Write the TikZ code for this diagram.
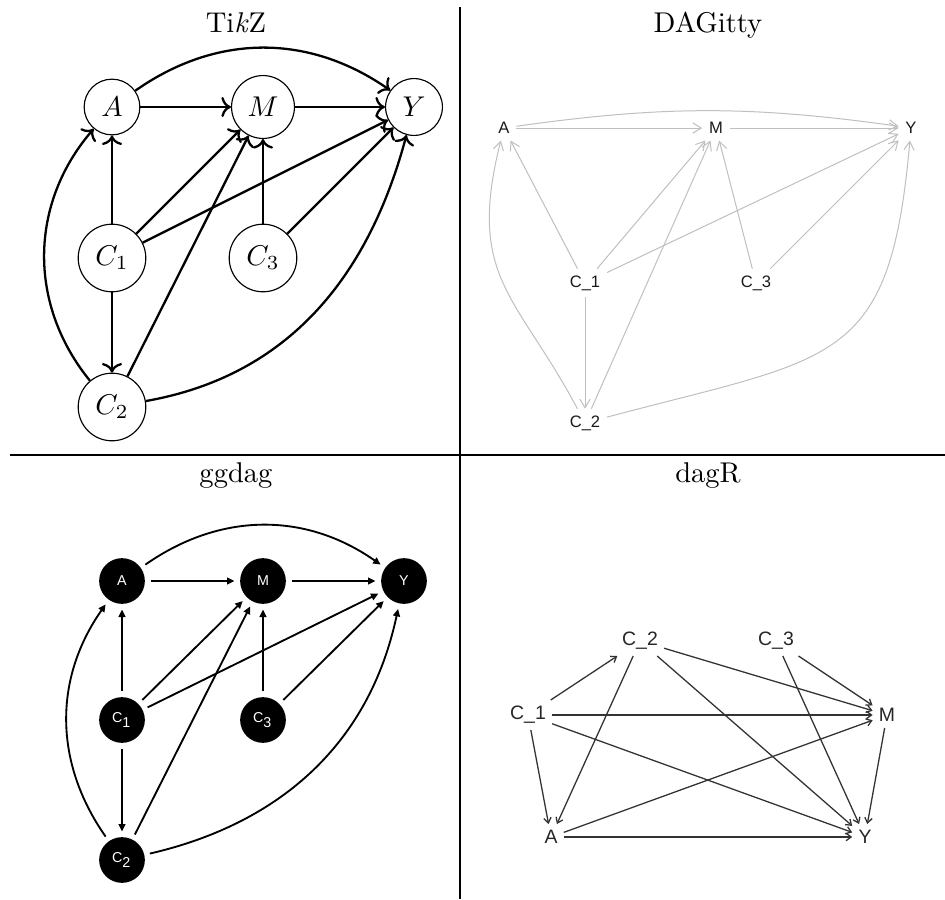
\documentclass[tikz,border=0pt]{standalone}
\usepackage{fontspec}
\newfontfamily\rsans{Liberation Sans}
\usetikzlibrary{arrows.meta}

\begin{document}
\begin{tikzpicture}[
    x=0.35pt,
    y=-0.35pt,
    paneltitle/.style ={
        anchor=base
    },
    tn/.style ={
        circle,
        draw,
        thin
    },
    tedge/.style ={
        ->,
        thick
    },
    dn/.style ={
        font=\rsans\fontsize{5.8}{6}\selectfont,
        text=black!90,
        inner sep=2.2pt
    },
    dedge/.style ={
        -{Straight Barb[length=3pt,width=3.6pt]},
        draw=black!25,
        line width=0.35pt
    },
    gn/.style ={
        circle,
        fill=black,
        text=white,
        minimum size=16pt,
        inner sep=0pt,
        outer sep=2pt,
        font=\rsans\fontsize{5}{6}\selectfont
    },
    gedge/.style ={
        -{Triangle[length=2.6pt,width=2.4pt]},
        line width=0.65pt
    },
    rn/.style ={
        font=\rsans\fontsize{6.8}{7}\selectfont,
        text=black!85,
        inner sep=2pt
    },
    redge/.style ={
        -{Straight Barb[length=1.8pt,width=2.6pt]},
        draw=black!80,
        line width=0.45pt
    }
    ]
    \useasboundingbox (0,0) rectangle (945,899);
    \draw (460,7) -- (460,899);
    \draw (10,455) -- (945,455);

    % TikZ
    \node[paneltitle] (ttitle) at (236,32) {Ti\emph{k}Z};
    \foreach \n/ \pos/ \lbl in {{A/(112,107)/A}, {M/(263,107)/M}, {Y/(414,107)/Y},
                                {C1/(112,258)/C_1}, {C3/(263,258)/C_3}, {C2/(112,407)/C_2}}
        \node[tn] (t\n) at \pos {$\lbl$};
    \foreach \src/ \dst in {A/M, M/Y, C1/A, C1/M, C1/Y, C1/C2, C3/M, C3/Y, C2/M}
        \draw[tedge] (t\src) -- (t\dst);
    \draw[tedge] (tA) to[bend left=35] (tY);
    \draw[tedge] (tC2) to[bend left=40] (tA);
    \draw[tedge] (tC2) to[out=10, in=255] (tY);

    % DAGitty
    \node[paneltitle] (dtitle) at (708,32) {DAGitty};
    \foreach \n/ \pos/ \lbl in {{A/(504,128)/A}, {M/(716,128)/M}, {Y/(911,128)/Y},
                                {C1/(585,283)/C\_1}, {C3/(756,283)/C\_3}, {C2/(585,423)/C\_2}}
        \node[dn] (d\n) at \pos {\lbl};
    \foreach \src/ \dst in {A/M, M/Y, C1/A, C1/M, C1/Y, C1/C2, C3/M, C3/Y, C2/M}
        \draw[dedge] (d\src) -- (d\dst);
    \draw[dedge] (dA) to[bend left=8] (dY);
    \draw[dedge] (dC2) .. controls +(-68,-128) and +(-38,150) .. (dA);
    \draw[dedge] (dC2) .. controls +(251,-67) and +(-21,239) .. (dY);

    % ggdag
    \node[paneltitle] (gtitle) at (236,482) {ggdag};
    \foreach \n/ \pos/ \lbl in {{A/(122,581)/A}, {M/(263,581)/M}, {Y/(404,581)/Y},
                                {C1/(122,720)/C\textsubscript{1}}, {C3/(263,720)/C\textsubscript{3}},
                                {C2/(122,860)/C\textsubscript{2}}}
        \node[gn] (g\n) at \pos {\lbl};
    \foreach \src/ \dst in {A/M, M/Y, C1/A, C1/M, C1/Y, C1/C2, C3/M, C3/Y, C2/M}
        \draw[gedge] (g\src) -- (g\dst);
    \draw[gedge] (gA) to[bend left=35] (gY);
    \draw[gedge] (gC2) to[bend left=35] (gA);
    \draw[gedge] (gC2) to[out=13, in=258] (gY);

    % dagR
    \node[paneltitle] (rtitle) at (708,482) {dagR};
    \foreach \n/ \pos/ \lbl in {{C2/(640,641)/C\_2}, {C3/(776,641)/C\_3}, {C1/(528,715)/C\_1},
                                {M/(887,715)/M}, {A/(551,837)/A}, {Y/(865,837)/Y}}
        \node[rn] (r\n) at \pos {\lbl};
    \foreach \src/ \dst in {C1/C2, C1/M, C1/A, C1/Y, C2/A, C2/M, C2/Y,
                            C3/M, C3/Y, M/Y, A/M, A/Y}
        \draw[redge] (r\src) -- (r\dst);
\end{tikzpicture}
\end{document}
